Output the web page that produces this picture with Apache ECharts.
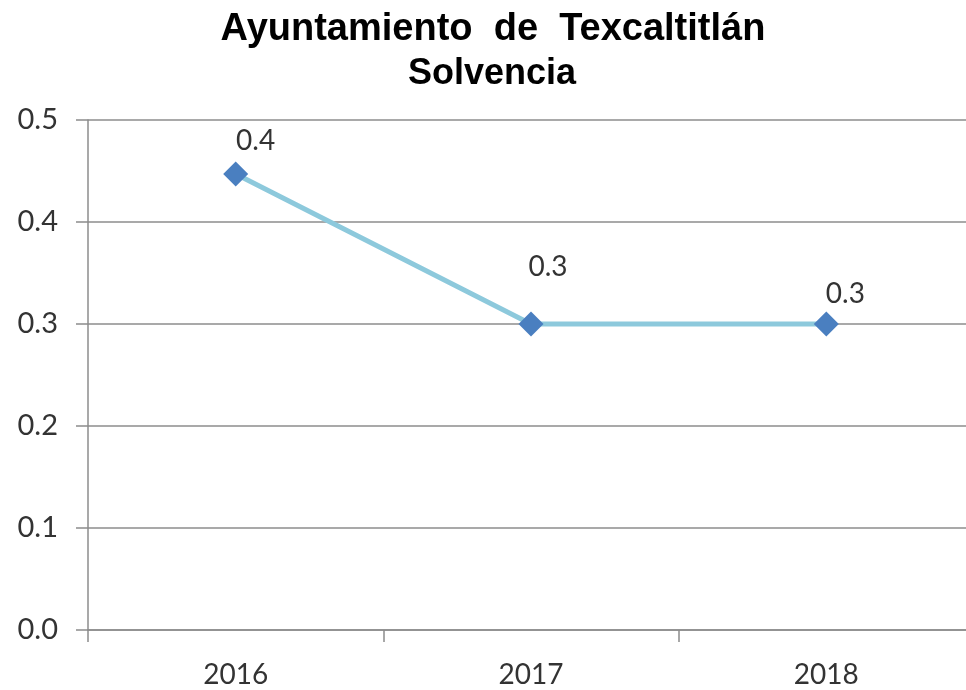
<!DOCTYPE html>
<html>
<head>
<meta charset="utf-8">
<script src="https://cdn.jsdelivr.net/npm/echarts@6/dist/echarts.min.js"></script>
<style>
html,body{margin:0;padding:0;background:#fff;overflow:hidden;}
#chart{width:966px;height:690px;}
</style>
</head>
<body>
<div id="chart"></div>
<script>
var titleText = 'Ayuntamiento  de  Texcaltitlán';
var subtitleText = 'Solvencia';
var categories = ['2016', '2017', '2018'];
var solvencia = [0.447, 0.3, 0.3];
var yTicks = [0, 0.1, 0.2, 0.3, 0.4, 0.5];

var chart = echarts.init(document.getElementById('chart'), null, {renderer: 'canvas'});
var numFont = 'Lato';
var labelShifts = [[20, -33], [17, -57], [19, -30]];

var option = {
  backgroundColor: '#ffffff',
  animation: false,
  title: [
    {
      text: titleText,
      left: 488,
      top: 6,
      textAlign: 'center',
      textStyle: {fontFamily: 'Liberation Sans', fontWeight: 'bold', fontSize: 38, color: '#000'}
    },
    {
      text: subtitleText,
      left: 487,
      top: 51,
      textAlign: 'center',
      textStyle: {fontFamily: 'Liberation Sans', fontWeight: 'bold', fontSize: 36, color: '#000'}
    }
  ],
  grid: {left: 88, top: 120, width: 886, height: 510, containLabel: false, outerBoundsMode: 'none'},
  xAxis: {
    type: 'category',
    data: categories,
    boundaryGap: true,
    axisLine: {show: true, lineStyle: {color: '#8c8c8c', width: 1.5}},
    axisTick: {show: true, length: 12, alignWithLabel: false, lineStyle: {color: '#8c8c8c', width: 1.5}},
    axisLabel: {margin: 31, fontFamily: numFont, fontSize: 28, color: '#333'},
    splitLine: {show: false}
  },
  yAxis: {
    type: 'value',
    min: yTicks[0],
    max: yTicks[yTicks.length - 1],
    interval: 0.1,
    axisLine: {show: true, lineStyle: {color: '#8c8c8c', width: 1.5}},
    axisTick: {show: true, length: 12, lineStyle: {color: '#8c8c8c', width: 1.5}},
    axisLabel: {margin: 30, fontFamily: numFont, fontSize: 29, color: '#333',
      formatter: function (v) { return v.toFixed(1); }},
    splitLine: {show: true, lineStyle: {color: '#8c8c8c', width: 1.5}}
  },
  series: [{
    type: 'line',
    data: solvencia.map(function (v, i) {
      return {value: v, label: {offset: labelShifts[i]}};
    }),
    symbol: 'diamond',
    symbolSize: 25,
    lineStyle: {color: '#8dc9dc', width: 5},
    itemStyle: {color: '#4a7fc0'},
    label: {
      show: true,
      position: 'inside',
      fontFamily: numFont,
      fontSize: 28,
      color: '#333',
      formatter: function (p) { return p.value.toFixed(1); }
    },
    z: 3
  }]
};
chart.setOption(option);
</script>
</body>
</html>
